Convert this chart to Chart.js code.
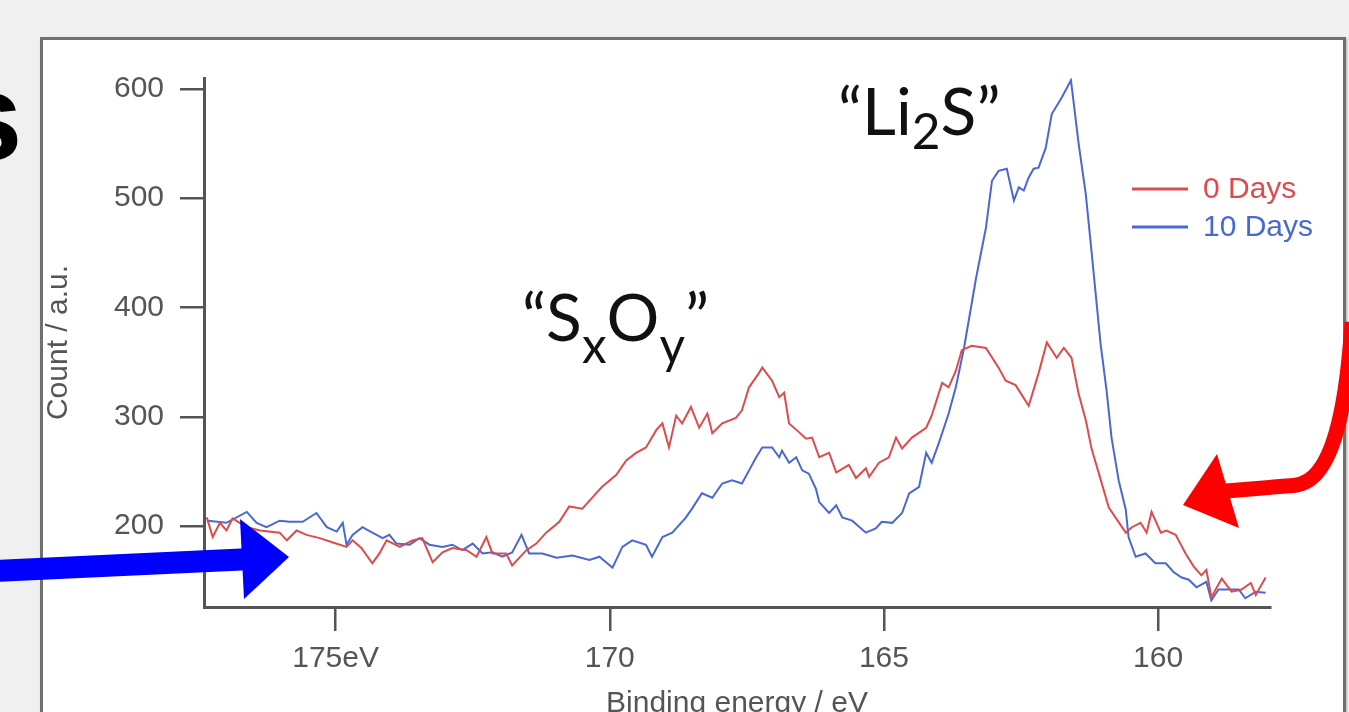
<!DOCTYPE html>
<html>
<head>
<meta charset="utf-8">
<title>S 2p spectra</title>
<script src="https://cdn.jsdelivr.net/npm/chart.js@4.4.1/dist/chart.umd.min.js"></script>
<style>
  html, body { margin: 0; padding: 0; width: 1349px; height: 712px; overflow: hidden; background: #f0f0f0; }
  #panel {
    position: absolute; left: 40px; top: 37px; width: 1300px; height: 720px;
    background: #fff; border: 3px solid #707070; box-shadow: 1px 1px 2px rgba(0,0,0,0.25);
  }
  #xps { position: absolute; left: 0; top: 0; }
  .big-s {
    position: absolute; left: -47px; top: 54px; font: bold 125px "Liberation Sans", Arial, sans-serif;
    line-height: 1; color: #000;
  }
  .note {
    position: absolute; font-family: Lato, "Open Sans", sans-serif; font-size: 66px;
    line-height: 1; color: #111; white-space: nowrap;
  }
  .note sub { font-size: 0.75em; line-height: 0; }
  #arrows { position: absolute; left: 0; top: 0; }
</style>
</head>
<body>
<div class="big-s">s</div>
<div id="panel"></div>
<canvas id="xps" width="1349" height="740"></canvas>
<div class="note" style="left:838px; top:77px;">“Li<sub style="vertical-align:-14px">2</sub>S”</div>
<div class="note" style="left:522px; top:283px;">“S<sub style="vertical-align:-22px">x</sub>O<sub style="vertical-align:-22px">y</sub>”</div>
<svg id="arrows" width="1349" height="712">
  <line x1="-5" y1="571" x2="252" y2="559" stroke="#0000ff" stroke-width="22" />
  <polygon points="240,519 289,557 244,599" fill="#0000ff" />
  <path d="M 1352 322 C 1347 400, 1336 455, 1314 476 Q 1304 486, 1286 486 L 1226 491"
        fill="none" stroke="#ff0000" stroke-width="15" />
  <polygon points="1183,505 1217,454 1239,528" fill="#ff0000" />
</svg>

<script>
// Colours
const xpsColors = {
  red: "#dc4c4c",
  blue: "#4a68d2",
  axis: "#555555",
};

// 0 Days: binding energy (eV) and counts
const energy0 = [177.35, 177.24, 177.11, 176.99, 176.88, 176.62, 176.38, 176.02, 175.89, 175.71,
  175.53, 175.29, 175.05, 174.80, 174.69, 174.53, 174.33, 174.20, 174.07, 173.83,
  173.60, 173.42, 173.23, 173.05, 172.87, 172.61, 172.43, 172.25, 172.14, 171.89,
  171.78, 171.52, 171.34, 171.16, 170.92, 170.74, 170.50, 170.32, 170.14, 169.88,
  169.70, 169.52, 169.34, 169.15, 169.04, 168.92, 168.79, 168.68, 168.52, 168.37,
  168.22, 168.13, 167.95, 167.70, 167.59, 167.46, 167.28, 167.22, 167.04, 166.91,
  166.82, 166.73, 166.55, 166.42, 166.31, 166.18, 166.00, 165.87, 165.64, 165.51,
  165.33, 165.27, 165.09, 164.91, 164.78, 164.67, 164.49, 164.23, 164.13, 163.94,
  163.82, 163.69, 163.58, 163.40, 163.14, 162.91, 162.78, 162.60, 162.36, 162.18,
  162.03, 161.85, 161.72, 161.58, 161.45, 161.32, 161.21, 161.08, 160.90, 160.59,
  160.48, 160.32, 160.21, 160.12, 159.95, 159.85, 159.68, 159.50, 159.35, 159.21,
  159.12, 159.03, 158.84, 158.66, 158.48, 158.31, 158.22, 158.04];
const counts0 = [208, 190, 203, 196, 207, 199, 196, 194, 187, 196,
  192, 189, 185, 181, 187, 180, 166, 175, 187, 181,
  187, 189, 167, 176, 180, 178, 172, 190, 175, 175,
  164, 178, 184, 194, 204, 218, 216, 226, 236, 247,
  260, 267, 272, 288, 294, 272, 301, 294, 309, 290,
  303, 285, 294, 299, 306, 327, 340, 345, 333, 318,
  322, 294, 286, 280, 281, 263, 267, 249, 256, 244,
  253, 245, 258, 263, 281, 271, 281, 290, 301, 331,
  327, 342, 361, 365, 363, 345, 333, 329, 310, 340,
  368, 354, 363, 354, 321, 297, 270, 248, 217, 194,
  199, 203, 194, 213, 194, 196, 192, 175, 163, 155,
  160, 135, 152, 140, 142, 148, 137, 153];

// 10 Days
const energy10 = [177.33, 176.99, 176.62, 176.44, 176.26, 176.02, 175.84, 175.60, 175.35, 175.16,
  174.98, 174.87, 174.80, 174.69, 174.51, 174.33, 174.14, 174.02, 173.89, 173.65,
  173.47, 173.29, 173.05, 172.87, 172.69, 172.50, 172.32, 172.14, 171.96, 171.78,
  171.61, 171.47, 171.23, 170.97, 170.68, 170.37, 170.19, 169.95, 169.77, 169.59,
  169.34, 169.23, 169.04, 168.86, 168.61, 168.50, 168.32, 168.13, 167.95, 167.77,
  167.59, 167.46, 167.33, 167.22, 167.04, 166.91, 166.86, 166.73, 166.60, 166.49,
  166.37, 166.24, 166.18, 166.00, 165.87, 165.76, 165.58, 165.33, 165.15, 165.04,
  164.85, 164.67, 164.54, 164.36, 164.23, 164.13, 164.00, 163.82, 163.69, 163.54,
  163.32, 163.14, 163.03, 162.91, 162.76, 162.63, 162.54, 162.45, 162.36, 162.27,
  162.18, 162.05, 161.94, 161.76, 161.59, 161.45, 161.32, 161.21, 161.05, 160.94,
  160.85, 160.72, 160.59, 160.54, 160.41, 160.23, 160.05, 159.86, 159.72, 159.57,
  159.44, 159.30, 159.12, 159.03, 158.90, 158.68, 158.53, 158.41, 158.22, 158.04];
const counts10 = [205, 203, 213, 203, 199, 205, 204, 204, 212, 199,
  195, 203, 183, 192, 199, 194, 189, 192, 184, 183,
  189, 183, 181, 183, 178, 184, 175, 176, 172, 176,
  192, 175, 175, 171, 173, 169, 172, 162, 181, 187,
  183, 172, 190, 194, 208, 216, 230, 226, 239, 242,
  239, 251, 263, 272, 272, 263, 269, 258, 263, 251,
  248, 234, 222, 212, 219, 208, 205, 194, 198, 204,
  203, 212, 230, 236, 267, 258, 276, 303, 327, 363,
  427, 473, 516, 525, 527, 498, 510, 507, 519, 527,
  528, 546, 577, 592, 608, 550, 504, 449, 367, 324,
  281, 242, 215, 190, 172, 175, 166, 166, 158, 153,
  151, 144, 149, 132, 142, 142, 142, 134, 140, 139];

const seriesLabels = ["0 Days", "10 Days"];
const xTicks = [160, 165, 170, 175];
const yTicks = [200, 300, 400, 500, 600];

const toPoints = (xs, ys) => xs.map((x, i) => ({ x, y: ys[i] }));

// legend sits inside the plot, top right, like the original
const insideLegend = {
  id: "insideLegend",
  afterDraw(chart) {
    const ctx = chart.ctx;
    ctx.save();
    ctx.font = "30px 'Liberation Sans', Arial, sans-serif";
    ctx.textBaseline = "middle";
    chart.data.datasets.forEach((ds, i) => {
      const y = 189 + i * 38;
      ctx.strokeStyle = ds.borderColor;
      ctx.lineWidth = 3;
      ctx.beginPath();
      ctx.moveTo(1132, y);
      ctx.lineTo(1188, y);
      ctx.stroke();
      ctx.fillStyle = ds.borderColor;
      ctx.fillText(ds.label, 1203, y + 1);
    });
    ctx.restore();
  },
};

const tickFont = { family: "'Liberation Sans', Arial, sans-serif", size: 30 };

new Chart(document.getElementById("xps").getContext("2d"), {
  type: "line",
  data: {
    datasets: [
      {
        label: seriesLabels[0],
        data: toPoints(energy0, counts0),
        borderColor: xpsColors.red,
        borderWidth: 2,
        pointRadius: 0,
        tension: 0,
      },
      {
        label: seriesLabels[1],
        data: toPoints(energy10, counts10),
        borderColor: xpsColors.blue,
        borderWidth: 2,
        pointRadius: 0,
        tension: 0,
      },
    ],
  },
  options: {
    responsive: false,
    animation: false,
    devicePixelRatio: 1,
    layout: { padding: { left: 0, top: 78, right: 79, bottom: 0 } },
    plugins: {
      legend: { display: false },
      tooltip: { enabled: false },
    },
    scales: {
      x: {
        type: "linear",
        reverse: true,
        min: 157.96,
        max: 177.4,
        afterFit: (scale) => { scale.height = 740 - 607; },
        afterBuildTicks: (scale) => { scale.ticks = xTicks.map((v) => ({ value: v })); },
        ticks: {
          font: tickFont,
          color: xpsColors.axis,
          padding: 10,
          maxRotation: 0,
          callback: (v) => (v === 175 ? "175eV" : String(v)),
        },
        grid: { drawOnChartArea: false, tickLength: 24, color: xpsColors.axis, lineWidth: 2.5 },
        border: { color: xpsColors.axis, width: 3 },
        title: {
          display: true,
          text: "Binding energy / eV",
          font: tickFont,
          color: xpsColors.axis,
          padding: { top: 0, bottom: 18 },
        },
      },
      y: {
        min: 126,
        max: 610,
        afterFit: (scale) => { scale.width = 204; },
        afterBuildTicks: (scale) => { scale.ticks = yTicks.map((v) => ({ value: v })); },
        ticks: { font: tickFont, color: xpsColors.axis, padding: 16 },
        grid: { drawOnChartArea: false, tickLength: 24, color: xpsColors.axis, lineWidth: 2.5 },
        border: { color: xpsColors.axis, width: 3 },
        title: {
          display: true,
          text: "Count / a.u.",
          font: { family: "'Liberation Sans', Arial, sans-serif", size: 30 },
          color: xpsColors.axis,
          padding: { top: 41, bottom: 0 },
        },
      },
    },
  },
  plugins: [insideLegend],
});
</script>
</body>
</html>
